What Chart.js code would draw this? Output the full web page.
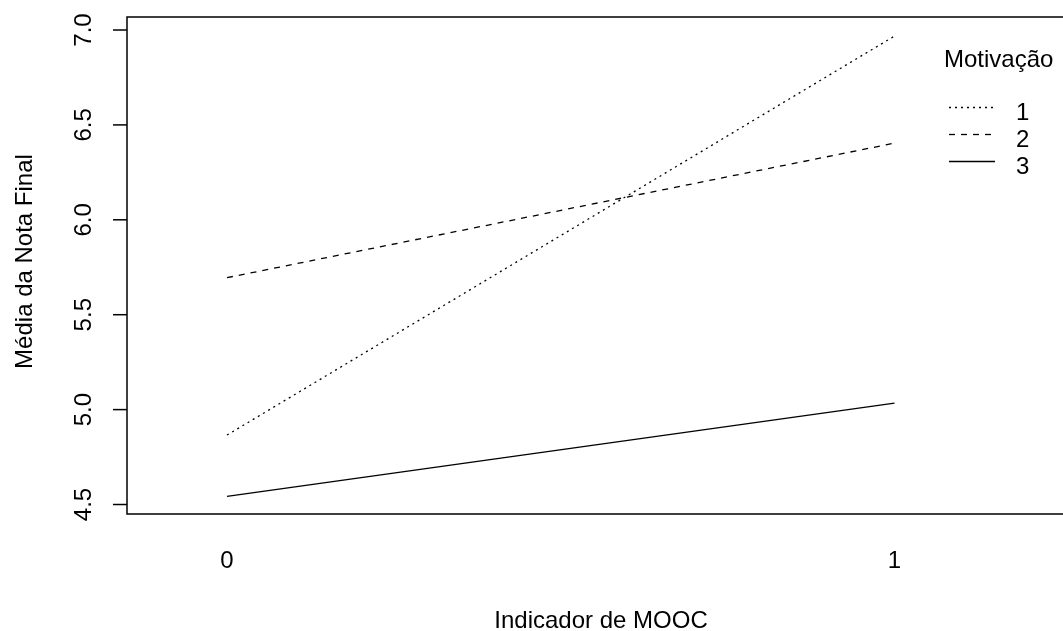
<!DOCTYPE html>
<html>
<head>
<meta charset="utf-8">
<script src="https://cdn.jsdelivr.net/npm/chart.js@4"></script>
<style>
  html, body { margin: 0; padding: 0; background: #fff; overflow: hidden; }
  #wrap { width: 1063px; height: 631px; overflow: hidden; }
</style>
</head>
<body>
<div id="wrap"><canvas id="chart" width="1080" height="631"></canvas></div>
<script>
// interaction plot: mean final grade by MOOC indicator and motivation level
let mooc = [0, 1];
let motivacao = ['1', '2', '3'];
let media1 = [4.866, 6.968];
let media2 = [5.695, 6.404];
let media3 = [4.543, 5.034];
let yTicks = [4.5, 5.0, 5.5, 6.0, 6.5, 7.0];
let xTicks = ['0', '1'];

var FONT = '24px "Liberation Sans", Arial, sans-serif';
var dashes = [[2, 4], [6, 6], []];

function toPoints(vals) {
    return mooc.map(function (m, i) { return { x: m, y: vals[i] }; });
}

var series = [media1, media2, media3];
var datasets = series.map(function (vals, i) {
    return {
        label: motivacao[i],
        data: toPoints(vals),
        borderColor: '#000',
        borderWidth: 1.3,
        borderDash: dashes[i],
        pointRadius: 0,
        fill: false,
        tension: 0
    };
});

// axes, box, labels and legend drawn R-style
var rDecor = {
    id: 'rDecor',
    afterDraw: function (chart) {
        var ctx = chart.ctx;
        var a = chart.chartArea;
        var xs = chart.scales.x, ys = chart.scales.y;
        ctx.save();
        ctx.strokeStyle = '#000';
        ctx.fillStyle = '#000';
        ctx.lineWidth = 1.5;
        ctx.strokeRect(a.left, a.top, a.right - a.left, a.bottom - a.top);

        // y ticks + rotated labels
        ctx.font = FONT;
        ctx.textAlign = 'center';
        ctx.textBaseline = 'alphabetic';
        yTicks.forEach(function (v) {
            var py = ys.getPixelForValue(v);
            ctx.beginPath();
            ctx.moveTo(a.left - 14, py);
            ctx.lineTo(a.left, py);
            ctx.stroke();
            ctx.save();
            ctx.translate(90.5, py);
            ctx.rotate(-Math.PI / 2);
            ctx.fillText(v.toFixed(1), 0, 0);
            ctx.restore();
        });

        // x labels (no tick marks)
        xTicks.forEach(function (t, i) {
            ctx.fillText(t, xs.getPixelForValue(mooc[i]), 568);
        });

        // axis titles
        ctx.fillText('Indicador de MOOC', (a.left + a.right) / 2, 628);
        ctx.save();
        ctx.translate(31.5, 261.5);
        ctx.rotate(-Math.PI / 2);
        ctx.fillText('Média da Nota Final', 0, 0);
        ctx.restore();

        // legend
        ctx.textAlign = 'left';
        ctx.fillText('Motivação', 944, 67);
        var ly = [107.5, 134.5, 161.5];
        motivacao.forEach(function (m, i) {
            ctx.save();
            ctx.lineWidth = 1.3;
            ctx.setLineDash(dashes[i]);
            ctx.beginPath();
            ctx.moveTo(949, ly[i]);
            ctx.lineTo(995, ly[i]);
            ctx.stroke();
            ctx.restore();
            ctx.fillText(m, 1016, ly[i] + 12);
        });
        ctx.restore();
    }
};

new Chart(document.getElementById('chart'), {
    type: 'line',
    data: { datasets: datasets },
    options: {
        responsive: false,
        animation: false,
        layout: { padding: { left: 127, top: 17, right: 5, bottom: 117 } },
        plugins: { legend: { display: false }, tooltip: { enabled: false } },
        scales: {
            x: { type: 'linear', min: -0.1498, max: 1.2704, display: false },
            y: { min: 4.45, max: 7.0685, display: false }
        }
    },
    plugins: [rDecor]
});
</script>
</body>
</html>
